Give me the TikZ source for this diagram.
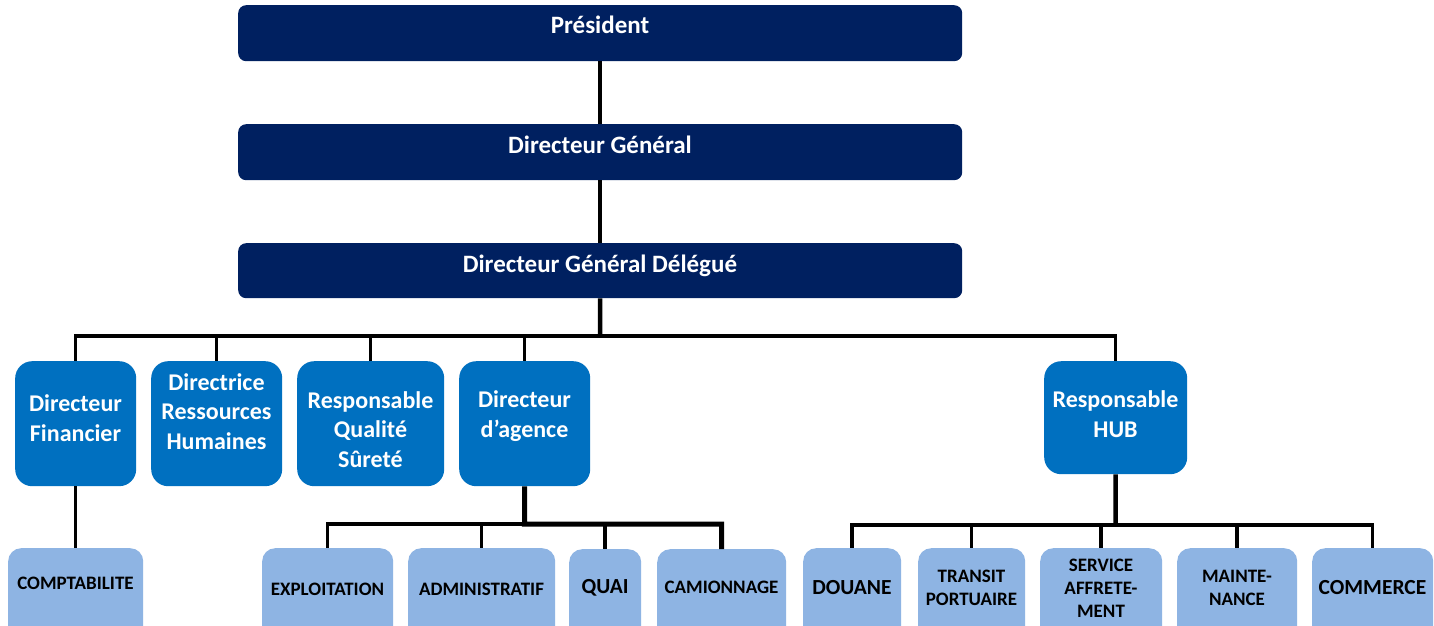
\documentclass[tikz,border=0pt]{standalone}
\usepackage{fontspec}
\setmainfont{Carlito}
\definecolor{navy}{HTML}{002060}
\definecolor{midblue}{HTML}{0070C0}
\definecolor{lightblue}{HTML}{8EB4E3}
\begin{document}
\begin{tikzpicture}[x=1pt,y=-1pt,
  topbox/.style={fill=navy, rounded corners=8pt, minimum width=724pt, minimum height=56pt, anchor=north west, inner sep=0pt, draw=none},
  midbox/.style={fill=midblue, rounded corners=17pt, minimum height=125pt, anchor=north west, inner sep=0pt, draw=none},
  lowbox/.style={fill=lightblue, rounded corners=13pt, minimum height=110pt, anchor=north west, inner sep=0pt, draw=none},
  ttop/.style={text=white, font=\bfseries\fontsize{25}{30}\selectfont, anchor=base, inner sep=0pt},
  tmid/.style={text=white, font=\bfseries\fontsize{24}{29.5}\selectfont, anchor=base, align=center, inner sep=0pt},
  tlow/.style={text=black, font=\bfseries\fontsize{19}{23}\selectfont, anchor=base, align=center, inner sep=0pt},
  tlowbig/.style={tlow, font=\bfseries\fontsize{21.5}{25}\selectfont},
  link/.style={draw=black, line width=3.5pt},
  linkthick/.style={draw=black, line width=5pt},
]
\useasboundingbox (0,0) rectangle (1434,626);
\fill[white] (0,0) rectangle (1434,626);
\clip (0,0) rectangle (1434,626);

% top level
\node[topbox] (pres) at (238,5) {};
\node[topbox] (dg) at (238,124) {};
\node[topbox, minimum height=55pt] (dgd) at (238,243) {};
\node[ttop] (pres-t) at (600,33.5) {Président};
\node[ttop] (dg-t) at (600,153) {Directeur Général};
\node[ttop] (dgd-t) at (600,272) {Directeur Général Délégué};

% second level
\node[midbox, minimum width=121pt] (df) at (15,361) {};
\node[midbox, minimum width=131pt] (drh) at (151,361) {};
\node[midbox, minimum width=147pt] (rqs) at (297,361) {};
\node[midbox, minimum width=131pt] (da) at (459,361) {};
\node[midbox, minimum width=143pt, minimum height=113pt] (hub) at (1044,361) {};
\node[tmid] (df-t) at (75.5,441) {Directeur\\Financier};
\node[tmid] (drh-t) at (216.5,449) {Directrice\\Ressources\\Humaines};
\node[tmid] (rqs-t) at (370.5,467) {Responsable\\Qualité\\Sûreté};
\node[tmid] (da-t) at (524.5,437) {Directeur\\d’agence};
\node[tmid] (hub-t) at (1115.5,437) {Responsable\\HUB};

% third level
\node[lowbox, minimum width=135pt] (compta) at (8,548) {};
\node[lowbox, minimum width=131pt] (expl) at (262,548) {};
\node[lowbox, minimum width=147pt] (admin) at (408,548) {};
\node[lowbox, minimum width=72pt] (quai) at (569,549) {};
\node[lowbox, minimum width=129pt] (cam) at (657,549) {};
\node[lowbox, minimum width=98pt] (douane) at (803,548) {};
\node[lowbox, minimum width=107pt] (transit) at (918,548) {};
\node[lowbox, minimum width=122pt] (serv) at (1040,548) {};
\node[lowbox, minimum width=120pt] (maint) at (1177,548) {};
\node[lowbox, minimum width=121pt] (comm) at (1312,548) {};
\node[tlow] (compta-t) at (75.5,589) {COMPTABILITE};
\node[tlow] (expl-t) at (327.5,595) {EXPLOITATION};
\node[tlow] (admin-t) at (481.5,595) {ADMINISTRATIF};
\node[tlowbig] (quai-t) at (605,593) {QUAI};
\node[tlow] (cam-t) at (721.5,593) {CAMIONNAGE};
\node[tlowbig] (douane-t) at (852,594) {DOUANE};
\node[tlow] (transit-t) at (971.5,605) {TRANSIT\\PORTUAIRE};
\node[tlow] (serv-t) at (1101,617) {SERVICE\\AFFRETE-\\MENT};
\node[tlow] (maint-t) at (1237,605) {MAINTE-\\NANCE};
\node[tlowbig] (comm-t) at (1372.5,594) {COMMERCE};

% bus coordinates
\coordinate (b1) at (600,336);
\coordinate (b2) at (524.5,524);
\coordinate (b3) at (1115.5,525);

% connectors
\draw[link] (pres.south) -- (dg.north);
\draw[link] (dg.south) -- (dgd.north);
\draw[link, line width=4.5pt] (dgd.south) -- (b1);
\draw[link] (b1) -| (df.north);
\draw[link] (b1) -| (drh.north);
\draw[link] (b1) -| (rqs.north);
\draw[link] (b1) -| (da.north);
\draw[link] (b1) -| (hub.north);
\draw[link] (df.south) -- (compta.north);
\draw[link] (b2) -| (expl.north);
\draw[link] (b2) -| (admin.north);
\draw[link] (b2) -| (quai.north);
\draw[linkthick] (da.south) -- (b2) -| (cam.north);
\draw[link, line width=4.5pt] (hub.south) -- (b3);
\draw[link] (b3) -| (douane.north);
\draw[link] (b3) -| (transit.north);
\draw[link] (b3) -| (serv.north);
\draw[link] (b3) -| (maint.north);
\draw[link] (b3) -| (comm.north);
\end{tikzpicture}
\end{document}
